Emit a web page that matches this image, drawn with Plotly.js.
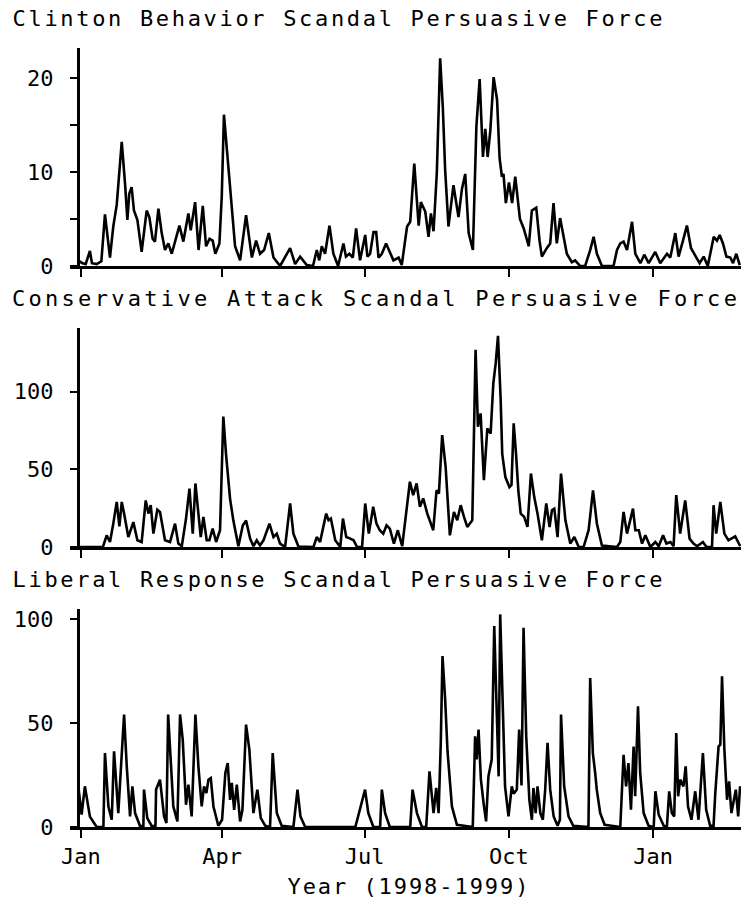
<!DOCTYPE html>
<html>
<head>
<meta charset="utf-8">
<script src="https://cdn.plot.ly/plotly-3.0.1.min.js"></script>
<style>
html,body{margin:0;padding:0;background:#fff;}
#chart{width:741px;height:905px;}
</style>
</head>
<body>
<div id="chart"></div>
<script>
// Days since 1998-01-01 and values
const clintonDays = [-2,1,3,5.7,7,10,13,15.3,18.5,20.6,22.8,26,28.1,29.6,30.8,32.3,33.8,36,38.7,41.9,43.6,45.7,47.2,49.4,51.5,53.6,55.7,57.9,60,62.8,65.3,68.5,70,72.8,75,77.7,79.8,82,84,85.7,88.3,89.8,91.2,93,95.5,98.3,101.5,105.3,109,111.7,114.2,116.8,119.8,122.8,127,133.4,136.6,139.8,144,148,150.4,152,153.6,155.7,158.5,161,164,167.4,169,171.2,173.4,175.5,178,181.3,182.7,184.4,186.6,188.3,189.8,191.9,194.6,196.9,199.3,202.6,204.6,208,210,212.6,215.4,216.8,219.6,221.7,223.2,224.9,227,229.1,230.8,232.3,234.4,237.6,239.3,240.8,243,245.1,247.3,250,252.2,254.3,256.4,257.9,259.4,261.1,263.2,265.4,267,268.5,269.5,271,273,275,277,280,282.4,285.6,287.6,290.4,292.5,294,297.1,299.3,301.4,303.5,305.6,308.2,309.9,313.1,315.2,318.4,321.6,324.8,327,329.1,332.3,339.7,341.9,344,346.1,348.3,351.5,353.6,356.8,359.3,362.1,366.3,369.5,373.8,375.9,379.1,381.2,384,386.5,389.1,391.9,394.6,397.2,399.8,403.6,405.7,407.4,409.5,411.7,414.2,415.9,418,420.2];
const clintonValues = [0.6,0.3,0.2,1.6,0.3,0.2,0.5,5.5,0.9,4.2,6.5,13.2,8.8,4.9,7.7,8.4,5.9,4.9,1.5,5.9,5.2,2.9,2.6,6.1,3.5,1.7,2.4,1.3,2.6,4.3,2.6,5.6,3.8,6.8,1.7,6.4,2.1,2.9,2.7,1.3,2.4,7.4,16.1,12.3,7,2.1,0.6,5.4,0.9,2.7,1.3,1.7,3.5,0.9,0,1.9,0.2,1.0,0.1,0,1.7,0.6,2.1,1.3,4.3,1.3,0,2.4,1.0,1.3,0.9,4.0,0.6,3.3,1.0,1.3,3.6,3.6,0.9,1.3,2.4,1.5,0.6,0.9,0.1,4.2,4.7,10.9,4.3,6.8,5.8,3.1,5.6,3.7,10,22.1,16.9,10.2,4.2,8.6,6.5,5.2,8.2,9.8,3.5,1.7,14.8,19.9,11.6,14.6,11.6,14.4,20.1,17.7,11.5,9.5,9.8,6.7,8.9,6.7,9.5,5,4,2.1,5.9,6.2,2.7,1.0,1.9,2.4,6.7,2.4,5.1,2.7,1.3,0.4,0.6,0,0,1.7,3.1,1.3,0,0,1.7,2.4,2.6,1.7,4.7,1.3,0.3,1.2,0.3,1.5,0.3,1.3,0.9,3.5,1.0,2.7,4.3,1.9,1.0,0.3,1.0,0,3.1,2.7,3.3,2.4,1.0,0.9,0.3,1.3,0.1];

const conservativeDays = [-2,14,16.4,18.5,20.6,22.8,24.5,26,27.5,30.2,33.4,36,38.7,41.3,43,44.5,46.2,48.7,50.4,53.6,56.8,60,62.1,64.3,67,69.2,71.3,73,74.9,76.4,78.1,80.2,81.9,84,86.2,88.7,90.8,92.5,95.1,97.2,100.4,103.2,105.3,107.9,110,112.1,114.2,116.4,120.2,122.8,124.9,127,130.2,133.4,135.5,138.7,148.3,150.4,152.5,154.7,156.4,157.9,159.4,162.2,165.4,167.1,169.2,171.8,173.9,176.1,179.3,181.3,183.6,186.4,188.5,190.6,192.8,194.9,197,199.6,202.1,204.9,207,209.8,211.9,214.1,216.2,218.3,220.9,223,224.7,226.8,228.3,230.4,232.6,235.3,237.9,240,242.2,244.3,246.4,249.6,251.7,253.2,254.9,257,259.2,261.3,263,264.5,266,267.7,268.7,270.7,273.3,274.6,276,277.5,279,280.5,282.7,284.8,287,289.1,291.2,294,296.8,298.9,300.4,301.9,304,306.2,309,312.1,314.7,317.5,320.6,323.8,326.6,329.1,332.3,341.9,344,346.1,348.3,352.1,353.6,355.8,357.9,360,363.2,366.4,368.5,371.3,373.4,376,378,379.7,382.2,385.4,388.2,390.7,393,396.7,399,402.5,403.5,405.2,407.8,410.4,413,417.3,420.5];
const conservativeValues = [0,0,7.5,3.2,15,29,13.3,29,21.5,6.4,16,4.3,3.2,30,21.5,26.9,8.6,24,22.6,4.3,3.2,15,2.2,0.5,18.3,37.6,8.6,40.9,21.5,6.4,19.4,4.3,4.3,11.8,3.2,10.8,84,60,31,17,0.5,13.9,17,5.4,0.5,4.3,1,4.3,15,6.4,8.6,2.2,0,28,8.6,0.3,0,6.4,3.2,13.9,21.5,17.2,18.3,4.3,0,18.3,6.4,5.4,4.3,0,0,28,8.6,25.9,15,10.8,8.6,13.9,11.8,2.2,10.8,0.5,19.4,42,33.4,40.9,25.9,31.3,21.5,15,10.8,36.5,34.4,72,51.6,7.5,22.6,17.2,26.9,19.4,12.9,17.2,127,77.4,86,43,76.4,73,105,118,136,95,60,45,38.6,40,79.6,60,36,21.5,19.4,12.9,47.3,32.3,21.5,4.3,28,12.9,23.7,24.7,6.4,47.3,17.2,2.2,6.4,0,0,10.8,36.5,15,1,0,3.2,22.6,8.6,24.7,10.8,10.8,2.2,7.5,0,3.2,0.5,7.5,2.2,3.2,0.5,33.4,8.6,30,5.4,2.2,0.5,3.2,0,0,26.9,8.6,29,8.6,4.3,6.9,0.5];

const liberalDays = [-1.7,0.4,2.5,5.7,10,14.3,15.3,17.5,19.6,21.1,23.8,26,27.5,29.2,31.3,32.8,34.5,37.6,39.8,40.2,42.3,45,47.5,47.9,50.4,53,54.5,55.6,58.9,61.5,63.2,64.9,67,68.5,70.6,73,74.9,77,78.5,80,81.3,82.8,84.5,87.6,90,92.1,93.6,95.1,96.2,97.7,99.4,101.5,103,105.3,107.4,110,112.5,114.7,117.5,120.6,122.3,124.9,128,135.5,138.1,140,143,175,181.2,183.3,186.5,190.8,191.9,194,197,210,211.5,214.3,217.5,220.2,222.3,224.9,226.6,228.1,229.5,230.6,232.3,233.8,236.6,239.8,249.9,251.4,252.4,253.6,255.1,256.8,258.4,259.9,262,263.6,264.8,266.4,267.4,268.9,270.5,272.7,274.8,276,278,279.5,281,282.3,284,286,287.6,288.6,290,291.2,293,294.6,296.1,297.6,299.3,301.5,304,305.5,306.2,308.2,311,314,323.7,324.8,326.5,328,329,331.2,334,344,346.1,347.7,349.2,350.8,352.5,353.5,355.3,356.7,358.9,362,365.3,366.4,368.5,371.7,373.7,375.2,376.9,378.4,379.7,380.9,382.2,384.3,385.7,387.2,389.4,391.8,393.9,396.7,398.8,401.3,403.5,404.6,406.7,407.8,408.9,410.4,412.1,413.4,414.9,417.7,419.2,420.4];
const liberalValues = [19.6,6,19.6,5,0,0,35.6,9.9,3.5,36.5,6.7,38.8,54.2,29.2,5.1,19.6,6.7,0.6,0.3,18,4.3,0.6,0.3,18,22.8,5.1,1.9,54.2,9.9,2.7,54.2,42.1,10.7,20.4,5.1,54.2,29.2,9.9,19.6,16.4,22.8,23.6,9.9,0.6,3.5,26,30.8,13.1,21.2,8.3,20.4,2.7,8.3,49.3,37.3,6.7,18,4.3,0.6,0,35.6,6.7,0.6,0,18,5.1,0,0,18,6.7,0,0,18,6.7,0,0,18,6.7,0,0,26.8,6.7,18.8,6.7,40.5,82.3,61.4,36.5,9.9,1.1,0,43.7,32.5,46.9,22.8,11.5,2.7,24.4,32.5,96.8,61.4,24.4,102.4,56.6,19.6,5.1,19.6,16,18,46.9,20,96,43.7,13.1,3.5,18.8,6.7,19.6,6.7,3.5,18,40.5,18,5.1,0.6,3.5,54.2,19.6,5.1,0.6,0,71.8,35.6,26,18,6.7,1.1,0,34.8,19.6,30.8,8.3,38.8,14.8,58.2,26,6.7,0.6,0,17.2,5.9,0.6,0,17.2,6.7,5.1,45.3,14.8,22.8,19.6,29.2,9.9,3.5,17.2,3.5,35.6,8.3,0.6,0.6,16.4,38.8,39.6,72.6,37.3,13.1,22,6.7,18,5.1,19.6];

const panelTitles = ['Clinton Behavior Scandal Persuasive Force',
                     'Conservative Attack Scandal Persuasive Force',
                     'Liberal Response Scandal Persuasive Force'];
const xTickVals = ['1998-01-01','1998-04-01','1998-07-01','1998-10-01','1999-01-01'];
const xTickText = ['Jan','Apr','Jul','Oct','Jan'];
const xAxisTitle = 'Year (1998-1999)';
const yTickVals1 = [0,10,20];
const yTickVals2 = [0,50,100];
const yTickVals3 = [0,50,100];

function toDate(d){
  const ms = Date.UTC(1998,0,1) + d*86400000;
  return new Date(ms).toISOString().replace('Z','');
}

const FONT = 'DejaVu Sans Mono, Liberation Mono, monospace';
const xRange = ['1997-12-25','1999-02-26'];
const yPos = 8/671;

function mkTrace(days, vals, xa, ya){
  return {x: days.map(toDate), y: vals, xaxis: xa, yaxis: ya, type:'scatter', mode:'lines',
          line:{color:'#000', width:2.6}, hoverinfo:'skip'};
}
const data = [
  mkTrace(clintonDays, clintonValues, 'x', 'y'),
  mkTrace(conservativeDays, conservativeValues, 'x2', 'y2'),
  mkTrace(liberalDays, liberalValues, 'x3', 'y3')
];

function xAx(ya, labels){
  return {type:'date', range:xRange, anchor:ya, domain:[0,1],
    tickmode:'array', tickvals:xTickVals, ticktext:xTickText, showticklabels:labels,
    ticks:'outside', ticklen:8, tickwidth:2, tickcolor:'#000',
    showline:true, linecolor:'#000', linewidth:2.5, showgrid:false, zeroline:false,
    tickfont:{family:FONT, size:22, color:'#000'}, fixedrange:true};
}
function yAx(range, tv, dom, minor){
  const a = {range:range, domain:dom, anchor:'free', position:yPos,
    tickmode:'array', tickvals:tv, ticks:'outside', ticklen:7, tickwidth:2, tickcolor:'#000',
    ticklabelstandoff:12,
    showline:true, linecolor:'#000', linewidth:2.5, showgrid:false, zeroline:false,
    tickfont:{family:FONT, size:22, color:'#000'}, fixedrange:true};
  if(minor){ a.minor = {tickvals:minor, ticks:'outside', ticklen:7, tickwidth:2, tickcolor:'#000', showgrid:false}; }
  return a;
}
const H = 779;
function py(pix){ return (827 - pix)/H; }
function px(pix){ return (pix - 70)/671; }

// [left, right] pixel extents of each text in the reference
const titleSpan = [[12,662],[12,737],[12,662]];
const titleCy = [18.5, 298.4, 579.4];
const xTitleSpan = [287,528];

const annotations = panelTitles.map((t,i)=>({
  text:t, xref:'paper', yref:'paper', x:px((titleSpan[i][0]+titleSpan[i][1])/2), y:py(titleCy[i]),
  xanchor:'center', yanchor:'middle', showarrow:false,
  font:{family:FONT, size:22, color:'#000'}
}));
annotations.push({text:xAxisTitle, xref:'paper', yref:'paper', x:px((xTitleSpan[0]+xTitleSpan[1])/2), y:py(886),
  xanchor:'center', yanchor:'middle', showarrow:false, font:{family:FONT, size:22, color:'#000'}});

const layout = {
  width:741, height:905,
  margin:{l:70, r:0, t:48, b:78, pad:0},
  paper_bgcolor:'#fff', plot_bgcolor:'#fff', showlegend:false,
  font:{family:FONT, size:22, color:'#000'},
  xaxis: xAx('y', false),
  xaxis2: xAx('y2', false),
  xaxis3: xAx('y3', true),
  yaxis: yAx([0,23.2], yTickVals1, [py(266), 1], [5,15]),
  yaxis2: yAx([0,141], yTickVals2, [py(547), py(328)]),
  yaxis3: yAx([0,105], yTickVals3, [0, py(609)]),
  annotations: annotations
};

Plotly.newPlot('chart', data, layout, {staticPlot:true, displayModeBar:false}).then(()=>{
  const spans = titleSpan.concat([xTitleSpan]);
  document.querySelectorAll('.annotation-text').forEach((el,i)=>{
    if(spans[i]){
      el.setAttribute('textLength', spans[i][1]-spans[i][0]);
      el.setAttribute('lengthAdjust', 'spacing');
    }
  });
});
</script>
</body>
</html>
